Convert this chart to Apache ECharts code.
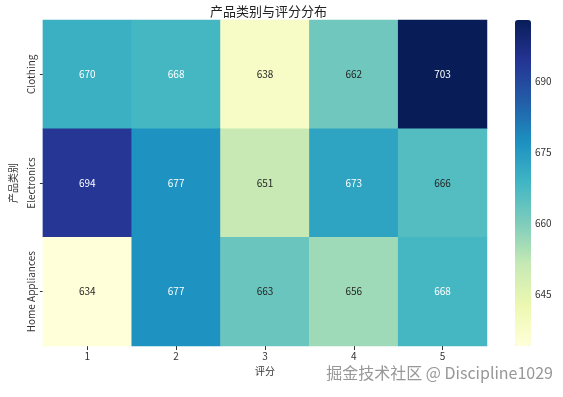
<!DOCTYPE html>
<html>
<head>
<meta charset="utf-8">
<title>产品类别与评分分布</title>
<script src="https://cdn.jsdelivr.net/npm/echarts@6/dist/echarts.min.js"></script>
<style>
html,body{margin:0;padding:0;background:#fff;}
#main{width:563px;height:397px;}
</style>
</head>
<body>
<div id="main"></div>
<script>
var ratings = ['1', '2', '3', '4', '5'];
var categories = ['Clothing', 'Electronics', 'Home Appliances'];
// 每行一个类别, 每列一个评分
var clothingVals = [670, 668, 638, 662, 703];
var electronicsVals = [694, 677, 651, 673, 666];
var homeVals = [634, 677, 663, 656, 668];
var barTicks = [645, 660, 675, 690];
var vMin = 634, vMax = 703;

var ylgnbu = ['#ffffd9', '#edf8b1', '#c7e9b4', '#7fcdbb', '#41b6c4', '#1d91c0', '#225ea8', '#253494', '#081d58'];
var font = '"Noto Sans CJK SC", "Noto Sans", sans-serif';

var rows = [clothingVals, electronicsVals, homeVals];
var cells = [];
rows.forEach(function(row, r){
	row.forEach(function(v, c){
		cells.push({
			value: [c, r, v],
			label: {color: v >= 667 ? '#ffffff' : '#262626'}	// 深色格子用白字
		});
	});
});

var chart = echarts.init(document.getElementById('main'));
var opt = {
	backgroundColor: '#fff',
	animation: false,
	title: {
		text: '产品类别与评分分布',
		left: 263.5,
		textAlign: 'center',
		top: 0,
		textStyle: {fontFamily: font, fontSize: 13, fontWeight: 'normal', color: '#222'}
	},
	grid: [
		{left: 40, top: 20, width: 447, height: 326},
		{left: 515, top: 20, width: 16, height: 326}
	],
	xAxis: [{
		type: 'category',
		gridIndex: 0,
		data: ratings,
		name: '评分',
		nameLocation: 'middle',
		nameGap: 20,
		nameTextStyle: {fontFamily: font, fontSize: 10, color: '#333'},
		axisLine: {show: false},
		axisTick: {show: true, alignWithLabel: true, length: 4, lineStyle: {color: '#333'}},
		axisLabel: {fontFamily: font, fontSize: 10, color: '#333', margin: 5},
		splitLine: {show: false}
	}, {
		type: 'value',
		gridIndex: 1,
		show: false
	}],
	yAxis: [{
		type: 'category',
		gridIndex: 0,
		data: categories,
		inverse: true,
		name: '产品类别',
		nameLocation: 'middle',
		nameGap: 24,
		nameRotate: 90,
		nameTextStyle: {fontFamily: font, fontSize: 10, color: '#333'},
		axisLine: {show: false},
		axisTick: {show: true, alignWithLabel: true, length: 3, lineStyle: {color: '#333'}},
		axisLabel: {fontFamily: font, fontSize: 10, color: '#333', rotate: 90, margin: 7},
		splitLine: {show: false}
	}, {
		type: 'value',
		gridIndex: 1,
		position: 'right',
		min: vMin,
		max: vMax,
		axisLine: {show: false},
		axisTick: {show: true, length: 3, lineStyle: {color: '#333'}, customValues: barTicks},
		axisLabel: {fontFamily: font, fontSize: 10, color: '#333', margin: 4, customValues: barTicks},
		splitLine: {show: false}
	}],
	visualMap: {
		type: 'continuous',
		seriesIndex: 0,
		min: vMin,
		max: vMax,
		calculable: false,
		orient: 'vertical',
		left: 515,
		top: 20,
		itemWidth: 16,
		itemHeight: 326,
		padding: 0,
		text: null,
		showLabel: false,
		inRange: {color: ylgnbu}
	},
	series: [{
		type: 'heatmap',
		xAxisIndex: 0,
		yAxisIndex: 0,
		data: cells,
		label: {show: true, fontFamily: font, fontSize: 10},
		itemStyle: {borderWidth: 0},
		emphasis: {disabled: true}
	}],
	graphic: [{
		type: 'text',
		right: 10,
		top: 365,
		style: {
			text: '掘金技术社区 @ Discipline1029',
			font: '16px ' + font,
			fill: 'rgba(140,140,140,0.9)'
		}
	}]
};
chart.setOption(opt);
</script>
</body>
</html>
